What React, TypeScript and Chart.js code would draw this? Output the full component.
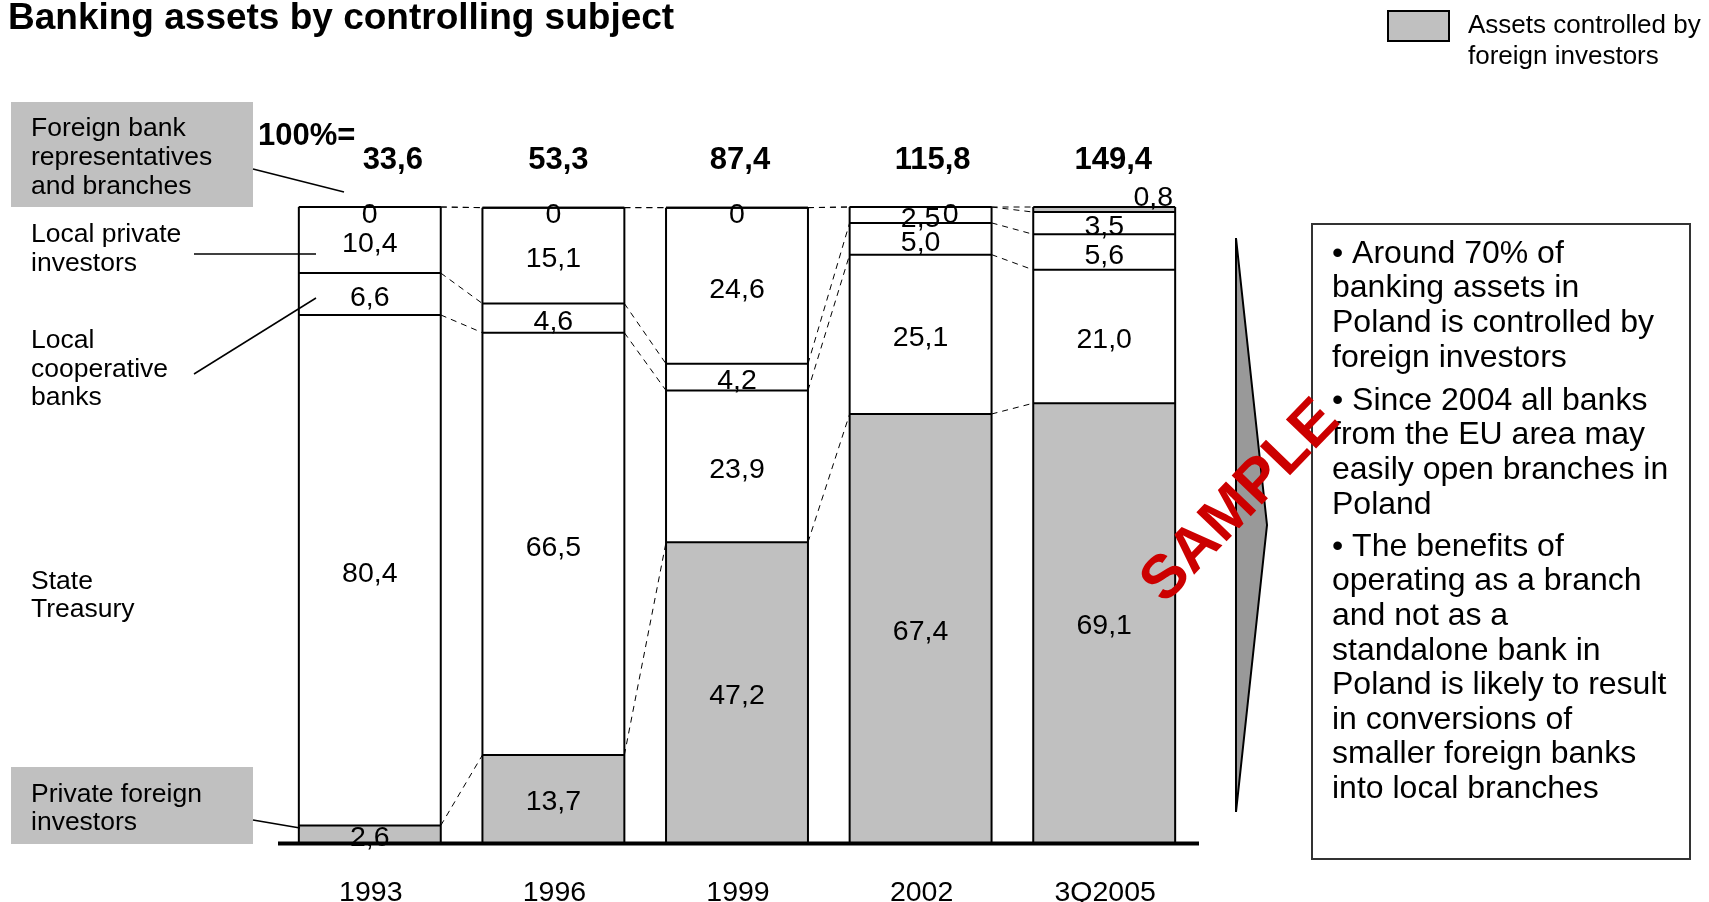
import React, { useEffect, useRef } from "react";
import { Chart, registerables } from "chart.js";

Chart.register(...registerables);

const years = ["1993", "1996", "1999", "2002", "3Q2005"];
const totals = ["33,6", "53,3", "87,4", "115,8", "149,4"];
// bottom to top
const privateForeign = [2.6, 13.7, 47.2, 67.4, 69.1];
const stateTreasury = [80.4, 66.5, 23.9, 25.1, 21.0];
const localCooperative = [6.6, 4.6, 4.2, 5.0, 5.6];
const localPrivate = [10.4, 15.1, 24.6, 2.5, 3.5];
const foreignBranches = [0, 0, 0, 0, 0.8];
const seriesNames = [
  "Private foreign investors",
  "State Treasury",
  "Local cooperative banks",
  "Local private investors",
  "Foreign bank representatives and branches",
];
const seriesForeign = [true, false, false, false, true];

const bulletParagraphs = [
  ["• Around 70% of", "banking assets in", "Poland is controlled by", "foreign investors"],
  ["• Since 2004 all banks", "from the EU area may", "easily open branches in", "Poland"],
  [
    "• The benefits of",
    "operating as a branch",
    "and not as a",
    "standalone bank in",
    "Poland is likely to result",
    "in conversions of",
    "smaller foreign banks",
    "into local branches",
  ],
];

const FONT = '"Liberation Sans", Arial, Helvetica, sans-serif';
const GRAY = "#c0c0c0";
// horizontal nudges of the "100%=" totals relative to bar centres (layout only)
const totalNudges = [23, 5, 3, 12, 9];

const fmt = (v: number) => (v === 0 ? "0" : v.toFixed(1).replace(".", ","));

const overlayPlugin = {
  id: "overlay",
  beforeDraw(chart: any) {
    const ctx = chart.ctx as CanvasRenderingContext2D;
    ctx.save();
    ctx.fillStyle = "#fff";
    ctx.fillRect(0, 0, chart.width, chart.height);
    ctx.restore();
  },
  afterDatasetsDraw(chart: any) {
    const ctx = chart.ctx as CanvasRenderingContext2D;
    const yScale = chart.scales.y;
    const datasets = chart.data.datasets;
    const metas = datasets.map((_: any, i: number) => chart.getDatasetMeta(i));
    const n = years.length;

    // dashed connectors
    ctx.save();
    ctx.setLineDash([6, 5]);
    ctx.lineWidth = 1;
    ctx.strokeStyle = "#000";
    for (let j = 0; j < n - 1; j++) {
      const a = metas[0].data[j];
      const b = metas[0].data[j + 1];
      const xr = a.x + a.width / 2;
      const xl = b.x - b.width / 2;
      let c1 = 0;
      let c2 = 0;
      for (let d = 0; d < datasets.length; d++) {
        c1 += datasets[d].data[j];
        c2 += datasets[d].data[j + 1];
        ctx.beginPath();
        ctx.moveTo(xr, yScale.getPixelForValue(c1));
        ctx.lineTo(xl, yScale.getPixelForValue(c2));
        ctx.stroke();
      }
    }
    ctx.restore();

    // bar outlines and separators
    ctx.save();
    ctx.strokeStyle = "#000";
    ctx.lineWidth = 2;
    for (let j = 0; j < n; j++) {
      const el = metas[0].data[j];
      const left = el.x - el.width / 2;
      const right = el.x + el.width / 2;
      let cum = 0;
      const base = yScale.getPixelForValue(0);
      for (let d = 0; d < datasets.length; d++) {
        cum += datasets[d].data[j];
        const yy = yScale.getPixelForValue(cum);
        ctx.beginPath();
        ctx.moveTo(left, yy);
        ctx.lineTo(right, yy);
        ctx.stroke();
      }
      const top = yScale.getPixelForValue(cum);
      ctx.beginPath();
      ctx.moveTo(left, base);
      ctx.lineTo(left, top);
      ctx.moveTo(right, base);
      ctx.lineTo(right, top);
      ctx.stroke();
    }
    ctx.restore();

    // value labels
    ctx.save();
    ctx.fillStyle = "#000";
    ctx.font = `28.5px ${FONT}`;
    ctx.textAlign = "center";
    ctx.textBaseline = "middle";
    for (let j = 0; j < n; j++) {
      let cum = 0;
      for (let d = 0; d < datasets.length; d++) {
        const v = datasets[d].data[j];
        const y0 = yScale.getPixelForValue(cum);
        cum += v;
        const y1 = yScale.getPixelForValue(cum);
        const el = metas[d].data[j];
        let x = el.x;
        let y = (y0 + y1) / 2;
        if (v === 0) {
          y = y1 + 4;
          const below = d > 0 ? datasets[d - 1].data[j] : 100;
          if (below < 4) x += 30;
        } else if (Math.abs(y0 - y1) < 10) {
          x += 49;
          y = y1 - 13;
        }
        ctx.fillText(fmt(v), x, y + 4);
      }
    }
    ctx.restore();
  },
  afterDraw(chart: any) {
    const ctx = chart.ctx as CanvasRenderingContext2D;
    const metas = chart.getDatasetMeta(0);
    ctx.save();

    // axis line
    ctx.strokeStyle = "#000";
    ctx.lineWidth = 4;
    ctx.beginPath();
    ctx.moveTo(chart.chartArea.left, chart.chartArea.bottom + 1.5);
    ctx.lineTo(chart.chartArea.right + 3, chart.chartArea.bottom + 1.5);
    ctx.stroke();

    // year labels and totals
    ctx.fillStyle = "#000";
    ctx.textAlign = "center";
    ctx.textBaseline = "middle";
    ctx.font = `28.5px ${FONT}`;
    metas.data.forEach((el: any, j: number) => {
      ctx.fillText(years[j], el.x + 1, 893);
    });
    ctx.font = `bold 31px ${FONT}`;
    metas.data.forEach((el: any, j: number) => {
      ctx.fillText(totals[j], el.x + totalNudges[j], 160);
    });
    ctx.textAlign = "left";
    ctx.fillText("100%=", 258, 136);

    // title
    ctx.textBaseline = "alphabetic";
    ctx.font = `bold 37px ${FONT}`;
    ctx.fillText("Banking assets by controlling subject", 8, 29);

    // left label boxes
    ctx.fillStyle = GRAY;
    ctx.fillRect(11, 102, 242, 105);
    ctx.fillRect(11, 767, 242, 77);
    ctx.fillStyle = "#000";
    ctx.font = `26.5px ${FONT}`;
    ctx.textBaseline = "middle";
    const leftLabels: [string, number][] = [
      ["Foreign bank", 129],
      ["representatives", 158],
      ["and branches", 187],
      ["Local private", 235],
      ["investors", 264],
      ["Local", 341],
      ["cooperative", 370],
      ["banks", 398],
      ["State", 582],
      ["Treasury", 610],
      ["Private foreign", 795],
      ["investors", 823],
    ];
    leftLabels.forEach(([t, y]) => ctx.fillText(t, 31, y));

    // leader lines
    ctx.lineWidth = 1.5;
    ctx.strokeStyle = "#000";
    const leaders = [
      [253, 169, 344, 192],
      [194, 254, 316, 254],
      [194, 374, 316, 298],
      [253, 820, 300, 828],
    ];
    leaders.forEach(([x1, y1, x2, y2]) => {
      ctx.beginPath();
      ctx.moveTo(x1, y1);
      ctx.lineTo(x2, y2);
      ctx.stroke();
    });

    // legend
    ctx.fillStyle = GRAY;
    ctx.fillRect(1388, 11, 61, 30);
    ctx.lineWidth = 2;
    ctx.strokeRect(1388, 11, 61, 30);
    ctx.fillStyle = "#000";
    ctx.font = `26px ${FONT}`;
    ctx.fillText("Assets controlled by", 1468, 26);
    ctx.fillText("foreign investors", 1468, 57);

    // arrow
    ctx.beginPath();
    ctx.moveTo(1236, 238);
    ctx.lineTo(1267, 525);
    ctx.lineTo(1236, 812);
    ctx.closePath();
    ctx.fillStyle = "#999999";
    ctx.fill();
    ctx.lineWidth = 2;
    ctx.strokeStyle = "#000";
    ctx.stroke();

    // text box
    ctx.lineWidth = 2;
    ctx.strokeStyle = "#333";
    ctx.strokeRect(1312, 224, 378, 635);
    ctx.fillStyle = "#000";
    ctx.font = `32px ${FONT}`;
    const starts = [254, 401, 547];
    bulletParagraphs.forEach((lines, p) => {
      lines.forEach((line, i) => {
        ctx.fillText(line, 1332, starts[p] + i * 34.6);
      });
    });

    // watermark
    ctx.save();
    ctx.translate(1241, 502);
    ctx.rotate((-46 * Math.PI) / 180);
    ctx.fillStyle = "#cc0000";
    ctx.font = `bold 61px ${FONT}`;
    ctx.textAlign = "center";
    ctx.textBaseline = "middle";
    ctx.fillText("SAMPLE", 0, 0);
    ctx.restore();

    ctx.restore();
  },
};

export default function App() {
  const canvasRef = useRef<HTMLCanvasElement | null>(null);

  useEffect(() => {
    if (!canvasRef.current) return;
    const seriesData = [privateForeign, stateTreasury, localCooperative, localPrivate, foreignBranches];
    const chart = new Chart(canvasRef.current, {
      type: "bar",
      data: {
        labels: years,
        datasets: seriesData.map((data, i) => ({
          label: seriesNames[i],
          data,
          backgroundColor: seriesForeign[i] ? GRAY : "#ffffff",
          borderWidth: 0,
          categoryPercentage: 1,
          barPercentage: 0.773,
        })),
      },
      options: {
        responsive: true,
        maintainAspectRatio: false,
        animation: false,
        layout: { padding: { left: 278, right: 513, top: 207, bottom: 60 } },
        plugins: {
          legend: { display: false },
          tooltip: { enabled: false },
          title: { display: false },
        },
        scales: {
          x: { stacked: true, display: false, grid: { display: false } },
          y: { stacked: true, display: false, min: 0, max: 100, grid: { display: false } },
        },
      },
      plugins: [overlayPlugin],
    });
    return () => chart.destroy();
  }, []);

  return (
    <div style={{ position: "fixed", left: 0, top: 0, width: 1709, height: 902, background: "#fff" }}>
      <canvas ref={canvasRef} />
    </div>
  );
}
